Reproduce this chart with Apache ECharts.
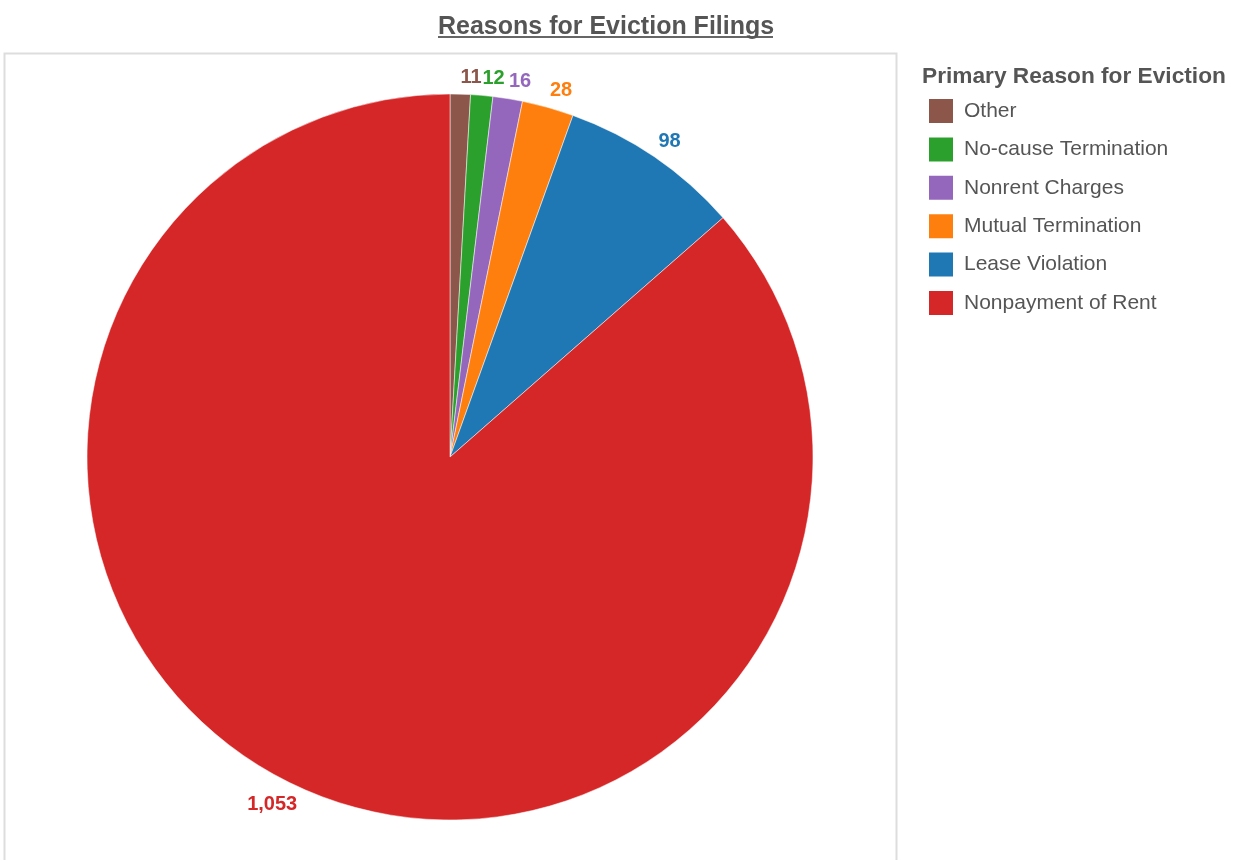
<!DOCTYPE html>
<html>
<head>
<meta charset="utf-8">
<script src="https://cdn.jsdelivr.net/npm/echarts@6/dist/echarts.min.js"></script>
<style>
  html, body { margin: 0; padding: 0; background: #ffffff; }
  #chart { width: 1237px; height: 860px; }
</style>
</head>
<body>
<div id="chart"></div>
<script>
const chartTitle = 'Reasons for Eviction Filings';
const legendTitle = 'Primary Reason for Eviction';
const categories = ['Other', 'No-cause Termination', 'Nonrent Charges', 'Mutual Termination', 'Lease Violation', 'Nonpayment of Rent'];
const values = [11, 12, 16, 28, 98, 1053];
const colors = ['#8c564b', '#2ca02c', '#9467bd', '#ff7f0e', '#1f77b4', '#d62728'];

const FONT = '"Liberation Sans", Arial, Helvetica, sans-serif';
const PIE_CENTER = [450, 457];
const chart = echarts.init(document.getElementById('chart'), null, { renderer: 'canvas' });

const data = categories.map((name, i) => ({
  name: name,
  value: values[i],
  itemStyle: { color: colors[i] },
  label: { color: colors[i] }
}));

chart.setOption({
  animation: false,
  backgroundColor: '#ffffff',
  title: [{
    text: chartTitle,
    left: 433,
    top: 10,
    textStyle: { fontFamily: FONT, fontSize: 25, fontWeight: 'bold', color: '#555555' }
  }, {
    text: legendTitle,
    left: 917,
    top: 60,
    textStyle: { fontFamily: FONT, fontSize: 22.7, fontWeight: 'bold', color: '#555555' }
  }],
  graphic: [{
    type: 'line',
    shape: { x1: 438, y1: 37, x2: 773, y2: 37 },
    style: { stroke: '#666666', lineWidth: 2 },
    silent: true
  }, {
    type: 'rect',
    shape: { x: 4.5, y: 53.5, width: 892, height: 900 },
    style: { fill: 'none', stroke: '#dddddd', lineWidth: 2 },
    silent: true,
    z: -10
  }],
  legend: {
    orient: 'vertical',
    left: 927,
    top: 97,
    padding: 0,
    icon: 'rect',
    itemWidth: 26,
    itemHeight: 26,
    itemGap: 10.4,
    selectedMode: false,
    data: categories,
    textStyle: { fontFamily: FONT, fontSize: 21, color: '#555555', padding: [0, 0, 0, 5] }
  },
  series: [{
    type: 'pie',
    center: PIE_CENTER,
    radius: 363,
    startAngle: 90,
    clockwise: true,
    avoidLabelOverlap: false,
    data: data,
    itemStyle: { borderColor: '#ffffff', borderWidth: 0.5 },
    label: {
      show: true,
      position: 'outside',
      distanceToLabelLine: 0,
      fontFamily: FONT,
      fontSize: 20,
      fontWeight: 'bold',
      formatter: p => p.value.toLocaleString('en-US')
    },
    labelLine: { show: false, length: 7, length2: 0 },
    labelLayout: function (params) {
      const r = params.labelRect;
      const above = (r.y + r.height / 2) < PIE_CENTER[1];
      return { verticalAlign: above ? 'bottom' : 'top' };
    },
    emphasis: { disabled: true }
  }]
});
</script>
</body>
</html>
